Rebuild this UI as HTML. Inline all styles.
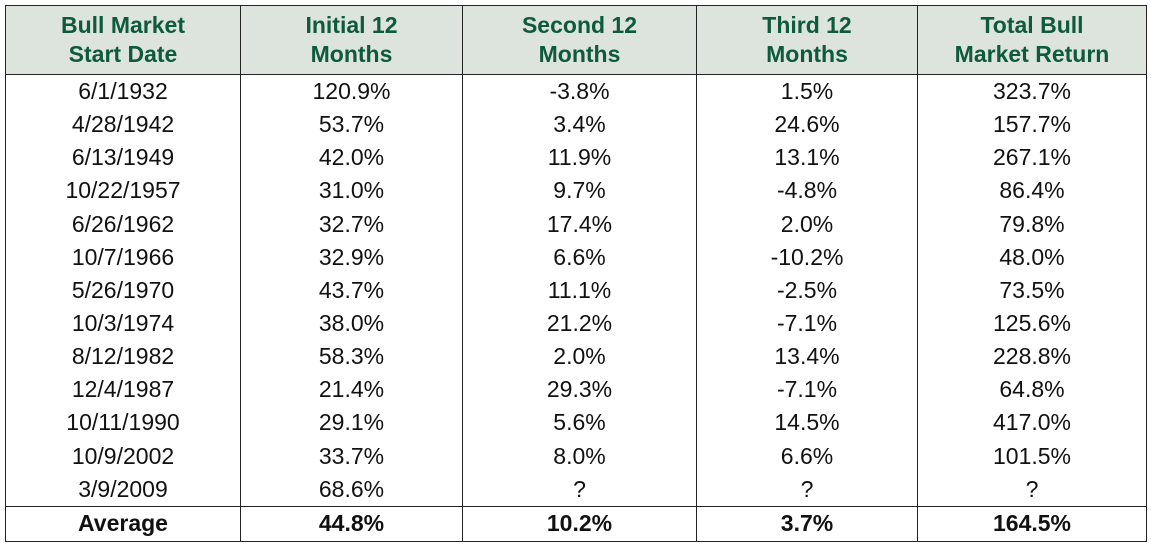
<!DOCTYPE html>
<html><head><meta charset="utf-8"><style>
body{margin:0;width:1151px;height:545px;background:#fff;position:relative;overflow:hidden;font-family:"Liberation Sans",Arial,sans-serif}
table{position:absolute;left:5px;top:5px;border-collapse:collapse;table-layout:fixed;width:1141px}
td,th{border-left:1.5px solid #222;border-right:1.5px solid #222;text-align:center;padding:0;font-size:23px;color:#111;height:33.15px;line-height:33px}
th{background:#dde3dd;color:#0e5a3c;font-weight:bold;line-height:29px;height:68px;border:1.5px solid #222;font-size:23px}
tr.avg td{font-weight:bold;border-top:1.5px solid #222;border-bottom:1.5px solid #222;height:34px}
</style></head><body>
<table>
<colgroup><col style="width:235px"><col style="width:222px"><col style="width:234px"><col style="width:221px"><col style="width:229px"></colgroup>
<thead><tr>
<th>Bull Market<br>Start Date</th>
<th>Initial 12<br>Months</th>
<th>Second 12<br>Months</th>
<th>Third 12<br>Months</th>
<th>Total Bull<br>Market Return</th>
</tr></thead>
<tbody>
<tr><td>6/1/1932</td><td>120.9%</td><td>-3.8%</td><td>1.5%</td><td>323.7%</td></tr>
<tr><td>4/28/1942</td><td>53.7%</td><td>3.4%</td><td>24.6%</td><td>157.7%</td></tr>
<tr><td>6/13/1949</td><td>42.0%</td><td>11.9%</td><td>13.1%</td><td>267.1%</td></tr>
<tr><td>10/22/1957</td><td>31.0%</td><td>9.7%</td><td>-4.8%</td><td>86.4%</td></tr>
<tr><td>6/26/1962</td><td>32.7%</td><td>17.4%</td><td>2.0%</td><td>79.8%</td></tr>
<tr><td>10/7/1966</td><td>32.9%</td><td>6.6%</td><td>-10.2%</td><td>48.0%</td></tr>
<tr><td>5/26/1970</td><td>43.7%</td><td>11.1%</td><td>-2.5%</td><td>73.5%</td></tr>
<tr><td>10/3/1974</td><td>38.0%</td><td>21.2%</td><td>-7.1%</td><td>125.6%</td></tr>
<tr><td>8/12/1982</td><td>58.3%</td><td>2.0%</td><td>13.4%</td><td>228.8%</td></tr>
<tr><td>12/4/1987</td><td>21.4%</td><td>29.3%</td><td>-7.1%</td><td>64.8%</td></tr>
<tr><td>10/11/1990</td><td>29.1%</td><td>5.6%</td><td>14.5%</td><td>417.0%</td></tr>
<tr><td>10/9/2002</td><td>33.7%</td><td>8.0%</td><td>6.6%</td><td>101.5%</td></tr>
<tr><td>3/9/2009</td><td>68.6%</td><td>?</td><td>?</td><td>?</td></tr>
<tr class="avg"><td>Average</td><td>44.8%</td><td>10.2%</td><td>3.7%</td><td>164.5%</td></tr>
</tbody></table>
</body></html>
